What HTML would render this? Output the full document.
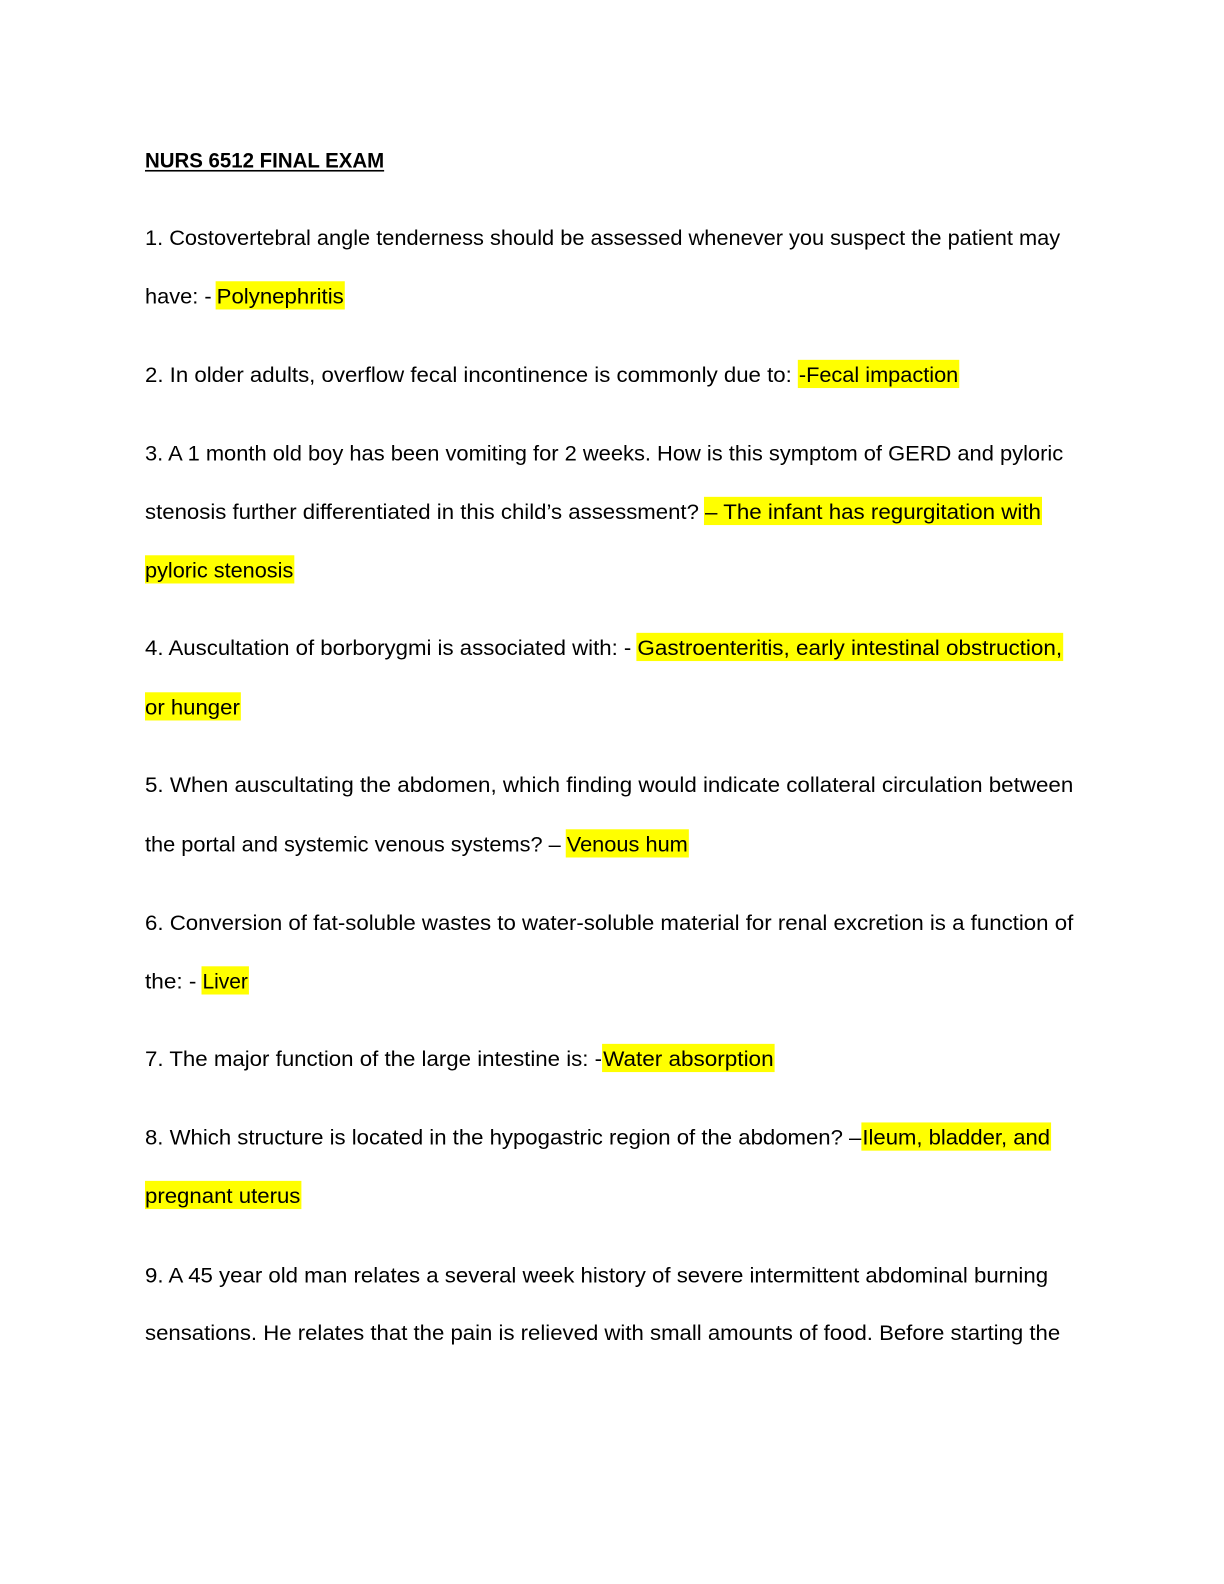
<!DOCTYPE html>
<html><head><meta charset="utf-8"><style>
html,body{margin:0;padding:0;background:#fff;width:1224px;height:1584px;overflow:hidden}
svg{display:block;position:absolute;left:0;top:0}
text{font-family:"Liberation Sans",sans-serif;font-size:21.5px;fill:#000}
</style></head><body>
<svg width="1224" height="1584" viewBox="0 0 1224 1584" xmlns="http://www.w3.org/2000/svg">
<g transform="matrix(1.009,0,0,1.0074,0.71,0.2)">
<g fill="#ffff00">
<rect x="213" y="279" width="128" height="28"/>
<rect x="790" y="357" width="160" height="28"/>
<rect x="697" y="493" width="335" height="28"/>
<rect x="143" y="551" width="148" height="28"/>
<rect x="630" y="628" width="423" height="28"/>
<rect x="143" y="687" width="95" height="28"/>
<rect x="560" y="823" width="122" height="28"/>
<rect x="199" y="959" width="47" height="28"/>
<rect x="596" y="1036" width="171" height="28"/>
<rect x="853" y="1114" width="188" height="28"/>
<rect x="143" y="1172" width="155" height="28"/>
</g>
<text x="143" y="166" textLength="237" lengthAdjust="spacingAndGlyphs" font-weight="bold">NURS 6512 FINAL EXAM</text>
<rect x="143" y="168.5" width="237" height="1.6" fill="#000"/>
<text x="143" y="243" textLength="907" lengthAdjust="spacingAndGlyphs">1. Costovertebral angle tenderness should be assessed whenever you suspect the patient may</text>
<text x="143" y="301" textLength="66" lengthAdjust="spacingAndGlyphs">have: -</text>
<text x="214" y="301" textLength="126" lengthAdjust="spacingAndGlyphs">Polynephritis</text>
<text x="143" y="379" textLength="641" lengthAdjust="spacingAndGlyphs">2. In older adults, overflow fecal incontinence is commonly due to:</text>
<text x="791" y="379" textLength="158" lengthAdjust="spacingAndGlyphs">-Fecal impaction</text>
<text x="143" y="457" textLength="910" lengthAdjust="spacingAndGlyphs">3. A 1 month old boy has been vomiting for 2 weeks. How is this symptom of GERD and pyloric</text>
<text x="143" y="515" textLength="549" lengthAdjust="spacingAndGlyphs">stenosis further differentiated in this child’s assessment?</text>
<text x="698" y="515" textLength="333" lengthAdjust="spacingAndGlyphs">– The infant has regurgitation with</text>
<text x="143" y="573" textLength="147" lengthAdjust="spacingAndGlyphs">pyloric stenosis</text>
<text x="143" y="650" textLength="482" lengthAdjust="spacingAndGlyphs">4. Auscultation of borborygmi is associated with: -</text>
<text x="631" y="650" textLength="421" lengthAdjust="spacingAndGlyphs">Gastroenteritis, early intestinal obstruction,</text>
<text x="143" y="709" textLength="94" lengthAdjust="spacingAndGlyphs">or hunger</text>
<text x="143" y="786" textLength="920" lengthAdjust="spacingAndGlyphs">5. When auscultating the abdomen, which finding would indicate collateral circulation between</text>
<text x="143" y="845" textLength="412" lengthAdjust="spacingAndGlyphs">the portal and systemic venous systems? –</text>
<text x="561" y="845" textLength="120" lengthAdjust="spacingAndGlyphs">Venous hum</text>
<text x="143" y="923" textLength="920" lengthAdjust="spacingAndGlyphs">6. Conversion of fat-soluble wastes to water-soluble material for renal excretion is a function of</text>
<text x="143" y="981" textLength="51" lengthAdjust="spacingAndGlyphs">the: -</text>
<text x="200" y="981" textLength="45" lengthAdjust="spacingAndGlyphs">Liver</text>
<text x="143" y="1058" textLength="453" lengthAdjust="spacingAndGlyphs">7. The major function of the large intestine is: -</text>
<text x="597" y="1058" textLength="169" lengthAdjust="spacingAndGlyphs">Water absorption</text>
<text x="143" y="1136" textLength="710" lengthAdjust="spacingAndGlyphs">8. Which structure is located in the hypogastric region of the abdomen? –</text>
<text x="854" y="1136" textLength="186" lengthAdjust="spacingAndGlyphs">Ileum, bladder, and</text>
<text x="143" y="1194" textLength="154" lengthAdjust="spacingAndGlyphs">pregnant uterus</text>
<text x="143" y="1273" textLength="895" lengthAdjust="spacingAndGlyphs">9. A 45 year old man relates a several week history of severe intermittent abdominal burning</text>
<text x="143" y="1330" textLength="907" lengthAdjust="spacingAndGlyphs">sensations. He relates that the pain is relieved with small amounts of food. Before starting the</text>
</g>
</svg>
</body></html>
